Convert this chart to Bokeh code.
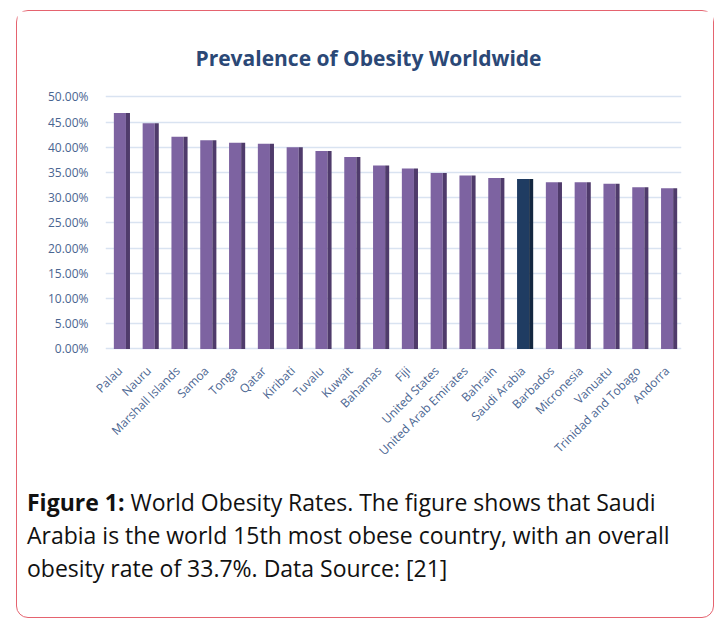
import math
from bokeh.plotting import figure
from bokeh.layouts import column
from bokeh.models import (Range1d, FactorRange, FixedTicker, PrintfTickFormatter,
                          Label, ColumnDataSource, Div)
from bokeh.transform import dodge
from bokeh.embed import file_html
from bokeh.resources import INLINE

# ---- data ----
countries = ["Palau", "Nauru", "Marshall Islands", "Samoa", "Tonga", "Qatar",
             "Kiribati", "Tuvalu", "Kuwait", "Bahamas", "Fiji", "United States",
             "United Arab Emirates", "Bahrain", "Saudi Arabia", "Barbados",
             "Micronesia", "Vanuatu", "Trinidad and Tobago", "Andorra"]
obesity_pct = [46.8, 44.8, 42.1, 41.4, 40.9, 40.7, 40.0, 39.3, 38.1, 36.4,
               35.8, 34.9, 34.4, 33.9, 33.7, 33.1, 33.1, 32.8, 32.1, 31.9]
highlight = "Saudi Arabia"
y_ticks = [0, 5, 10, 15, 20, 25, 30, 35, 40, 45, 50]
title_text = "Prevalence of Obesity Worldwide"
caption_bold = "Figure 1:"
caption_lines = ["World Obesity Rates. The figure shows that Saudi",
                 "Arabia is the world 15th most obese country, with an overall",
                 "obesity rate of 33.7%. Data Source: [21]"]

FONT = "Open Sans"
LABEL_COLOR = "#4a6591"

front = ["#1f3c62" if c == highlight else "#7d63a1" for c in countries]
side = ["#132740" if c == highlight else "#4f3b6b" for c in countries]
source = ColumnDataSource(dict(country=countries, value=obesity_pct, front=front, side=side))

p = figure(width=696, height=458,
           x_range=FactorRange(factors=countries), y_range=Range1d(-0.5, 61.4),
           output_backend="svg", toolbar_location=None,
           min_border_left=88, min_border_right=32, min_border_top=28, min_border_bottom=118)
p.outline_line_color = None
p.background_fill_color = "white"
p.border_fill_color = "white"
p.xgrid.grid_line_color = None
p.ygrid.grid_line_color = "#d9e3f1"
p.ygrid.grid_line_width = 1.5
p.ygrid.ticker = FixedTicker(ticks=y_ticks)

p.yaxis.ticker = FixedTicker(ticks=y_ticks)
p.yaxis.formatter = PrintfTickFormatter(format="%.2f%%")
for ax in (p.xaxis, p.yaxis):
    ax.axis_line_color = None
    ax.major_tick_line_color = None
    ax.minor_tick_line_color = None
    ax.major_tick_out = 0
    ax.major_tick_in = 0
    ax.major_label_text_font = FONT
    ax.major_label_text_color = LABEL_COLOR
p.yaxis.major_label_text_font_size = "12px"
p.yaxis.major_label_standoff = 17
p.xaxis.major_label_text_font_size = "12px"
p.xaxis.major_label_orientation = math.pi / 4
p.xaxis.major_label_standoff = 17

# bars: front face + darker side face for the 3-D look
p.vbar(x="country", top="value", bottom=0, width=0.42, fill_color="front",
       line_color=None, source=source)
p.vbar(x=dodge("country", 0.28, range=p.x_range), top="value", bottom=0, width=0.14,
       fill_color="side", line_color=None, source=source)

# title (inside the plotting frame, above the 50% line)
p.add_layout(Label(x=263, y=294, x_units="screen", y_units="screen", text=title_text,
                   text_font=FONT, text_font_style="bold", text_font_size="21px",
                   text_color="#2b4876", text_align="center", text_baseline="middle"))

caption_html = ('<div style="padding:12px 0 0 5px; font-family:\'Open Sans\'; font-size:23px; '
                'line-height:33px; color:#111111; white-space:nowrap;">'
                '<b>' + caption_bold + '</b> ' + '<br>'.join(caption_lines) + '</div>')
caption = Div(text=caption_html, width=686, height=138)

layout = column(p, caption, margin=(10, 0, 0, 16),
                styles={"border": "1.5px solid #e5636f", "border-radius": "12px",
                        "background-color": "white"})

open("out.html", "w").write(file_html(layout, INLINE))
